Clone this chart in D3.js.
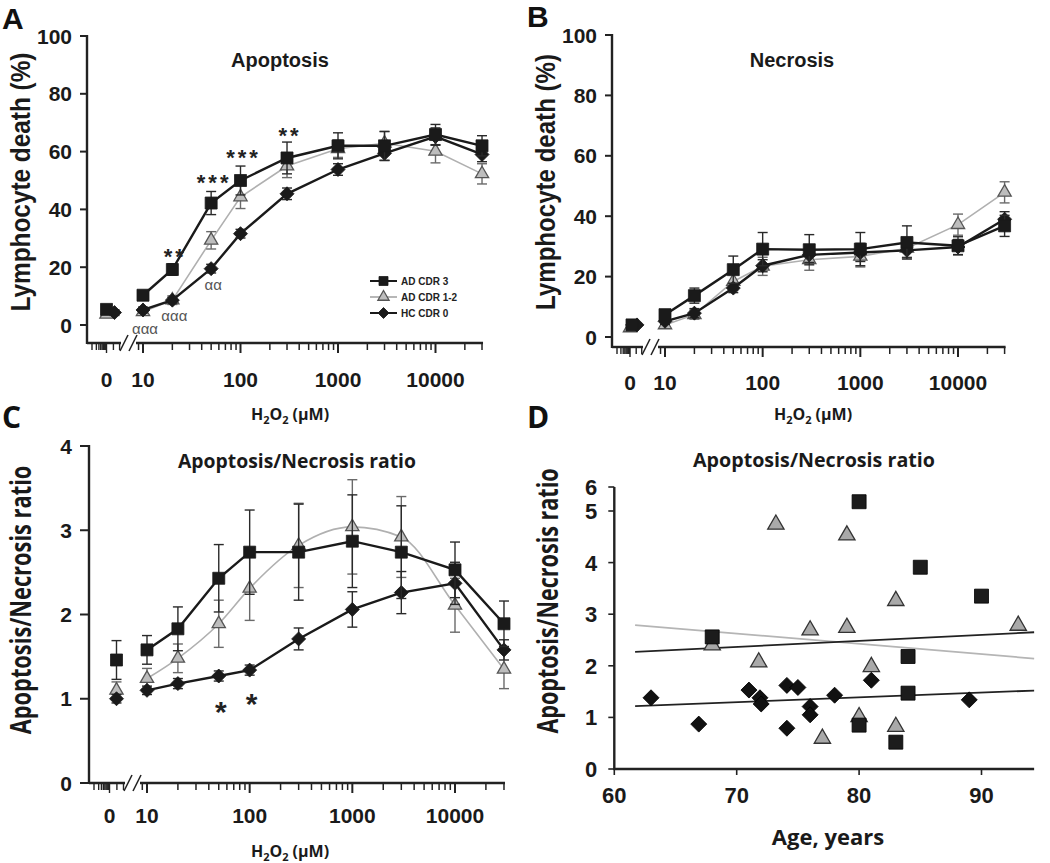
<!DOCTYPE html>
<html><head><meta charset="utf-8">
<script src="https://cdn.jsdelivr.net/npm/d3@7"></script>
<style>body{margin:0;background:#fff} svg{display:block}</style>
</head><body>
<svg id="c" width="1050" height="863"></svg>
<script>
// ---------- DATA ----------
const concs = [0, 10, 20, 50, 100, 300, 1000, 3000, 10000, 30000];
const seriesNames = ["AD CDR 3", "AD CDR 1-2", "HC CDR 0"];
const xTickLabels = [10, 100, 1000, 10000];
const yTicksAB = [0, 20, 40, 60, 80, 100];
const yTicksC = [0, 1, 2, 3, 4];
const yTicksD = [0, 1, 2, 3, 4, 5, 6];
const xTicksD = [60, 70, 80, 90];

// Panel A - apoptosis (%)
const apoAD3  = [5.4, 10.3, 19.2, 42.2, 50.0, 57.8, 62.0, 62.0, 65.9, 62.0];
const apoAD12 = [3.7, 4.6, 8.6, 29.3, 44.3, 55.0, 61.0, 62.9, 60.1, 52.3];
const apoHC   = [4.3, 5.2, 8.6, 19.5, 31.6, 45.4, 53.8, 59.4, 65.2, 59.0];
const apoAD3Err  = [1, 1.5, 2, 4, 5, 5.5, 4.5, 5, 3.5, 3.5];
const apoAD12Err = [1, 1, 1.5, 3, 4, 4, 3, 4, 4, 3.5];
const apoHCErr   = [1, 1, 1, 1.5, 1.5, 2, 2, 2.5, 3, 2.5];

// Panel B - necrosis (%)
const necAD3  = [4.0, 7.4, 13.7, 22.3, 29.1, 28.9, 29.1, 31.3, 30.2, 36.8];
const necAD12 = [3.0, 4.0, 7.4, 18.4, 23.4, 25.6, 26.7, 29.4, 37.2, 47.9];
const necHC   = [4.0, 5.2, 7.9, 16.2, 23.6, 27.2, 28.0, 28.7, 29.8, 39.0];
const necAD3Err  = [1, 1.5, 2.5, 4.5, 5.5, 5, 5.5, 5.5, 3, 3.5];
const necAD12Err = [1, 1, 1.5, 3, 3, 3.5, 3.5, 3, 3.5, 3.5];
const necHCErr   = [0.5, 1, 1.5, 1.5, 2, 2.5, 3, 2.5, 2.5, 2.5];

// Panel C - apoptosis/necrosis ratio
const ratAD3  = [1.46, 1.58, 1.83, 2.43, 2.74, 2.74, 2.87, 2.74, 2.53, 1.89];
const ratAD12 = [1.10, 1.24, 1.48, 1.89, 2.31, 2.82, 3.04, 2.92, 2.11, 1.35];
const ratHC   = [1.00, 1.10, 1.18, 1.27, 1.34, 1.71, 2.06, 2.26, 2.37, 1.58];
const ratAD3Err  = [0.23, 0.17, 0.26, 0.40, 0.50, 0.57, 0.55, 0.55, 0.33, 0.27];
const ratAD12Err = [0.10, 0.12, 0.17, 0.28, 0.38, 0.50, 0.56, 0.48, 0.32, 0.23];
const ratHCErr   = [0.05, 0.05, 0.06, 0.06, 0.06, 0.13, 0.21, 0.25, 0.25, 0.12];

// Panel D - individual ratios vs age
const ageAD3   = [68, 80, 85, 90, 84, 84, 80, 83];
const valAD3   = [2.56, 5.18, 3.91, 3.35, 2.18, 1.47, 0.85, 0.52];
const ageAD12  = [73.2, 79, 83, 93, 76, 79, 68, 71.8, 81, 80, 83, 77];
const valAD12  = [4.74, 4.53, 3.26, 2.78, 2.69, 2.74, 2.40, 2.07, 1.98, 1.01, 0.82, 0.59];
const ageHC    = [63, 66.9, 71, 71.9, 72, 74.1, 75, 76, 76, 74.1, 78, 81, 89];
const valHC    = [1.38, 0.87, 1.53, 1.38, 1.26, 1.62, 1.58, 1.21, 1.05, 0.79, 1.43, 1.72, 1.34];
const fitAges  = [61.7, 94.3];
const fitAD3   = [2.27, 2.65];
const fitAD12  = [2.79, 2.14];
const fitHC    = [1.22, 1.52];

// ---------- STYLE ----------
const INK = "#1a1a1a", AX = "#222";
const TRI_FILL = "#bdbdbd", TRI_STROKE = "#555", TRI_LINE = "#b0b0b0";
const SANS = "'Liberation Sans', Arial, sans-serif";
const OPEN = "'Open Sans', 'Liberation Sans', sans-serif";

const svg = d3.select("#c");

function sym(g, type, x, y, s, fill, stroke) {
  let p;
  if (type === "sq") p = g.append("path").attr("d", d3.symbol(d3.symbolSquare, s * s)());
  else if (type === "tri") p = g.append("path").attr("d", d3.symbol(d3.symbolTriangle, s * s * 0.45)());
  else p = g.append("path").attr("d", d3.symbol(d3.symbolSquare, s * s * 0.5)());
  const rot = type === "dia" ? " rotate(45)" : "";
  p.attr("transform", `translate(${x},${y})${rot}`)
   .attr("fill", fill).attr("stroke", stroke).attr("stroke-width", type === "tri" ? 1.3 : 0.8);
  return p;
}

function h2o2(g, x, y) {
  const t = g.append("text").attr("x", x).attr("y", y).attr("text-anchor", "middle")
    .attr("font-family", OPEN).attr("font-weight", 700).attr("font-size", 16).attr("fill", INK);
  t.append("tspan").text("H");
  t.append("tspan").attr("font-size", 11).attr("dy", 4).text("2");
  t.append("tspan").attr("dy", -4).text("O");
  t.append("tspan").attr("font-size", 11).attr("dy", 4).text("2");
  t.append("tspan").attr("dy", -4).text(" (µM)");
}

function panelLetter(x, y, txt, fam) {
  svg.append("text").attr("x", x).attr("y", y).attr("font-family", fam)
    .attr("font-weight", 700).attr("font-size", 30).attr("fill", "#111").text(txt);
}

// rotated axis title, horizontally condensed by a scale factor
function yLabel(g, x, cy, txt, fam, size, sx) {
  g.append("text")
    .attr("transform", `translate(${x},${cy}) rotate(-90) scale(${sx},1)`)
    .attr("text-anchor", "middle").attr("font-family", fam).attr("font-weight", 700)
    .attr("font-size", size).attr("fill", INK).text(txt);
}

// ---------- dose-response panels ----------
function drawDose(p) {
  const g = svg.append("g");
  const y = d3.scaleLinear().domain(p.yDomain).range(p.yRange);
  const xr = d3.scaleLog().domain([10, 10000]).range([p.x10, p.x10000]);
  const leftEnd = p.x10 - 22;
  const xl = d3.scaleLog().domain([0.01, 1]).range([p.axisX + 5, leftEnd]);
  const zeroX = xl(0.1);
  const xPos = (c, si) => c === 0 ? zeroX + p.zeroOff[si] : xr(c);
  const ax = g.append("g").attr("stroke", AX).attr("fill", "none");

  // y axis
  const yTop = y(p.yDomain[1]);
  ax.append("line").attr("x1", p.axisX).attr("x2", p.axisX).attr("y1", yTop - 1).attr("y2", p.xAxisY + 1).attr("stroke-width", 2.4);
  p.yTicks.forEach(t => {
    ax.append("line").attr("x1", p.axisX - p.yTickLen).attr("x2", p.axisX).attr("y1", y(t)).attr("y2", y(t)).attr("stroke-width", 2);
    g.append("text").attr("x", p.axisX - p.yTickLen - 8).attr("y", y(t)).attr("dy", "0.36em")
      .attr("text-anchor", "end").attr("font-family", SANS).attr("font-weight", 700)
      .attr("font-size", 21).attr("fill", INK).text(t);
  });

  // x axis left segment (zero)
  ax.append("line").attr("x1", p.axisX).attr("x2", leftEnd).attr("y1", p.xAxisY).attr("y2", p.xAxisY).attr("stroke-width", 2.4);
  xl.ticks().filter(d => d <= 0.1 + 1e-9 || Math.abs(d - 0.3) < 1e-9 || Math.abs(d - 0.8) < 1e-9).forEach(d => {
    const L = Math.abs(d - 0.1) < 1e-9 ? 10 : 7;
    ax.append("line").attr("x1", xl(d)).attr("x2", xl(d)).attr("y1", p.xAxisY).attr("y2", p.xAxisY + L).attr("stroke-width", 1.4);
  });
  // break slashes
  [p.x10 - 19, p.x10 - 10].forEach(cx => {
    ax.append("line").attr("x1", cx - 4).attr("x2", cx + 4).attr("y1", p.xAxisY + 8).attr("y2", p.xAxisY - 8).attr("stroke-width", 1.6);
  });
  // x axis right segment (log)
  const rStart = p.x10 - 7;
  const xEnd = xr(30000);
  ax.append("line").attr("x1", rStart).attr("x2", xEnd + 1).attr("y1", p.xAxisY).attr("y2", p.xAxisY).attr("stroke-width", 2.4);
  d3.scaleLog().domain([8, 30000]).ticks().filter(d => xr(d) >= rStart - 0.5).forEach(d => {
    const major = Math.abs(Math.log10(d) - Math.round(Math.log10(d))) < 1e-9;
    ax.append("line").attr("x1", xr(d)).attr("x2", xr(d)).attr("y1", p.xAxisY).attr("y2", p.xAxisY + (major ? 10 : 7)).attr("stroke-width", major ? 2 : 1.5);
  });
  // x tick labels
  const lab = g.append("g").attr("font-family", SANS).attr("font-weight", 700).attr("font-size", 21)
    .attr("fill", INK).attr("text-anchor", "middle");
  lab.append("text").attr("x", zeroX).attr("y", p.xLabY).text("0");
  xTickLabels.forEach(v => lab.append("text").attr("x", xr(v)).attr("y", p.xLabY).text(v));

  // series: draw gray first, then HC diamonds, then AD3 squares
  const order = [1, 2, 0];
  const types = ["sq", "tri", "dia"];
  order.forEach(si => {
    const s = p.series[si];
    const pts = concs.map((c, i) => ({ c, v: s.vals[i], e: s.errs[i] }));
    const isTri = si === 1;
    const col = isTri ? TRI_LINE : INK;
    const line = d3.line().x(d => xr(d.c)).y(d => y(d.v)).curve(isTri && p.smoothGray ? d3.curveMonotoneX : d3.curveLinear);
    g.append("path").attr("d", line(pts.filter(d => d.c > 0))).attr("fill", "none")
      .attr("stroke", col).attr("stroke-width", isTri ? 1.6 : 2.4);
    const ebCol = isTri ? "#6a6a6a" : "#2a2a2a";
    pts.forEach(d => {
      const x = xPos(d.c, si);
      g.append("line").attr("x1", x).attr("x2", x).attr("y1", y(d.v - d.e)).attr("y2", y(d.v + d.e)).attr("stroke", ebCol).attr("stroke-width", 1.4);
      [d.v - d.e, d.v + d.e].forEach(vv => g.append("line").attr("x1", x - 5).attr("x2", x + 5).attr("y1", y(vv)).attr("y2", y(vv)).attr("stroke", ebCol).attr("stroke-width", 1.4));
    });
    pts.forEach(d => {
      const x = xPos(d.c, si);
      if (isTri) sym(g, "tri", x, y(d.v), p.msize + 1, TRI_FILL, TRI_STROKE);
      else sym(g, types[si], x, y(d.v), si === 2 ? p.msize + 2 : p.msize, INK, INK);
    });
  });
  return { g, y, xr };
}

// ---------- Panel A ----------
panelLetter(2, 29, "A", SANS);
const A = drawDose({
  axisX: 87, yDomain: [0, 100], yRange: [325, 36], xAxisY: 343, x10: 143, x10000: 435.5,
  yTicks: yTicksAB, yTickLen: 7, xLabY: 387, zeroOff: [0, 0, 8], msize: 12, smoothGray: false,
  series: [
    { vals: apoAD3, errs: apoAD3Err },
    { vals: apoAD12, errs: apoAD12Err },
    { vals: apoHC, errs: apoHCErr }
  ]
});
A.g.append("text").attr("x", 280).attr("y", 67).attr("text-anchor", "middle")
  .attr("font-family", SANS).attr("font-weight", 700).attr("font-size", 20).attr("fill", INK).text("Apoptosis");
yLabel(A.g, 30, 182, "Lymphocyte death (%)", SANS, 28, 0.87);
h2o2(A.g, 290, 420);
// significance marks
const starsA = [{ c: 20, v: 25.3, t: "**" }, { c: 50, v: 50.9, t: "***" }, { c: 100, v: 59.5, t: "***" }, { c: 300, v: 67, t: "**" }];
const alphaA = [{ c: 50, v: 13.8, t: "αα" }, { c: 20, v: 3.1, t: "ααα" }, { c: 10, v: -1.7, t: "ααα" }];
starsA.forEach(s => A.g.append("text").attr("x", A.xr(s.c) + 3).attr("y", A.y(s.v)).attr("dy", "0.55em")
  .attr("text-anchor", "middle").attr("font-family", SANS).attr("font-weight", 700).attr("font-size", 22)
  .attr("letter-spacing", 3).attr("fill", "#222").text(s.t));
alphaA.forEach(s => A.g.append("text").attr("x", A.xr(s.c) + 2).attr("y", A.y(s.v)).attr("dy", "0.3em")
  .attr("text-anchor", "middle").attr("font-family", SANS).attr("font-size", 15).attr("fill", "#555").text(s.t));
// legend
const legRows = [281, 297, 313];
const legTypes = ["sq", "tri", "dia"];
seriesNames.forEach((n, i) => {
  const isTri = i === 1;
  A.g.append("line").attr("x1", 370).attr("x2", 397).attr("y1", legRows[i]).attr("y2", legRows[i])
    .attr("stroke", isTri ? "#999" : INK).attr("stroke-width", isTri ? 1.4 : 2);
  if (isTri) sym(A.g, "tri", 383.5, legRows[i], 11, TRI_FILL, TRI_STROKE);
  else sym(A.g, legTypes[i], 383.5, legRows[i], i === 2 ? 11 : 9, INK, INK);
  A.g.append("text").attr("x", 401).attr("y", legRows[i]).attr("dy", "0.36em")
    .attr("font-family", SANS).attr("font-weight", 700).attr("font-size", 10).attr("fill", "#222").text(n);
});

// ---------- Panel B ----------
panelLetter(527, 27, "B", SANS);
const B = drawDose({
  axisX: 612, yDomain: [0, 100], yRange: [337, 35], xAxisY: 347, x10: 665, x10000: 958,
  yTicks: yTicksAB, yTickLen: 7, xLabY: 390, zeroOff: [2, 0, 7], msize: 12, smoothGray: false,
  series: [
    { vals: necAD3, errs: necAD3Err },
    { vals: necAD12, errs: necAD12Err },
    { vals: necHC, errs: necHCErr }
  ]
});
B.g.append("text").attr("x", 792).attr("y", 67).attr("text-anchor", "middle")
  .attr("font-family", SANS).attr("font-weight", 700).attr("font-size", 20).attr("fill", INK).text("Necrosis");
yLabel(B.g, 555, 182, "Lymphocyte death (%)", SANS, 28, 0.86);
h2o2(B.g, 813, 420);

// ---------- Panel C ----------
panelLetter(2, 428, "C", OPEN);
const C = drawDose({
  axisX: 89, yDomain: [0, 4], yRange: [783, 446], xAxisY: 783, x10: 147, x10000: 455,
  yTicks: yTicksC, yTickLen: 9, xLabY: 823, zeroOff: [7, 7, 7], msize: 12, smoothGray: true,
  series: [
    { vals: ratAD3, errs: ratAD3Err },
    { vals: ratAD12, errs: ratAD12Err },
    { vals: ratHC, errs: ratHCErr }
  ]
});
C.g.append("text").attr("x", 297).attr("y", 468).attr("text-anchor", "middle")
  .attr("font-family", OPEN).attr("font-weight", 700).attr("font-size", 19).attr("fill", INK)
  .attr("textLength", 238).attr("lengthAdjust", "spacingAndGlyphs").text("Apoptosis/Necrosis ratio");
yLabel(C.g, 31, 600, "Apoptosis/Necrosis ratio", OPEN, 28, 0.78);
h2o2(C.g, 290, 857);
const starsC = [{ c: 50, v: 0.94 }, { c: 100, v: 1.04 }];
starsC.forEach(s => C.g.append("text").attr("x", C.xr(s.c) + 2).attr("y", C.y(s.v)).attr("dy", "0.62em")
  .attr("text-anchor", "middle").attr("font-family", SANS).attr("font-weight", 700).attr("font-size", 30)
  .attr("fill", "#222").text("*"));

// ---------- Panel D ----------
panelLetter(527, 428, "D", OPEN);
const gD = svg.append("g");
const xD = d3.scaleLinear().domain([60, 90]).range([614.3, 981.5]);
const yD = d3.scaleLinear().domain([0, 5]).range([769, 511]);
const dTop = 487, dRight = xD(94.3);
const yDpos = v => v === 6 ? dTop : yD(v);
const axD = gD.append("g").attr("stroke", AX).attr("fill", "none");
axD.append("line").attr("x1", xD(60)).attr("x2", xD(60)).attr("y1", dTop).attr("y2", yD(0) + 1).attr("stroke-width", 2.4);
axD.append("line").attr("x1", xD(60) - 1).attr("x2", dRight).attr("y1", yD(0)).attr("y2", yD(0)).attr("stroke-width", 2.4);
yTicksD.forEach(t => {
  axD.append("line").attr("x1", xD(60) - 6).attr("x2", xD(60)).attr("y1", yDpos(t)).attr("y2", yDpos(t)).attr("stroke-width", 1.6);
  gD.append("text").attr("x", xD(60) - 17).attr("y", yDpos(t)).attr("dy", "0.36em").attr("text-anchor", "end")
    .attr("font-family", SANS).attr("font-weight", 700).attr("font-size", 22).attr("fill", INK).text(t);
});
xTicksD.forEach(t => {
  axD.append("line").attr("x1", xD(t)).attr("x2", xD(t)).attr("y1", yD(0)).attr("y2", yD(0) + 6).attr("stroke-width", 1.6);
  gD.append("text").attr("x", xD(t)).attr("y", 803).attr("text-anchor", "middle")
    .attr("font-family", SANS).attr("font-weight", 700).attr("font-size", 22).attr("fill", INK).text(t);
});
// regression lines
[[fitAD12, "#b5b5b5"], [fitAD3, "#222"], [fitHC, "#222"]].forEach(([f, c]) => {
  gD.append("line").attr("x1", xD(fitAges[0])).attr("x2", xD(fitAges[1]))
    .attr("y1", yD(f[0])).attr("y2", yD(f[1])).attr("stroke", c).attr("stroke-width", 1.8);
});
ageAD12.forEach((a, i) => sym(gD, "tri", xD(a), yD(valAD12[i]), 16, "#a9a9a9", "#333"));
ageAD3.forEach((a, i) => sym(gD, "sq", xD(a), yD(valAD3[i]), 14, "#1c1c1c", "#000"));
ageHC.forEach((a, i) => sym(gD, "dia", xD(a), yD(valHC[i]), 16, "#111", "#000"));
gD.append("text").attr("x", 814).attr("y", 467).attr("text-anchor", "middle")
  .attr("font-family", OPEN).attr("font-weight", 700).attr("font-size", 19).attr("fill", INK)
  .attr("textLength", 242).attr("lengthAdjust", "spacingAndGlyphs").text("Apoptosis/Necrosis ratio");
yLabel(gD, 558, 601, "Apoptosis/Necrosis ratio", OPEN, 28, 0.77);
gD.append("text").attr("x", 828).attr("y", 845).attr("text-anchor", "middle")
  .attr("font-family", OPEN).attr("font-weight", 700).attr("font-size", 22).attr("fill", INK).text("Age, years");
</script>
</body></html>
